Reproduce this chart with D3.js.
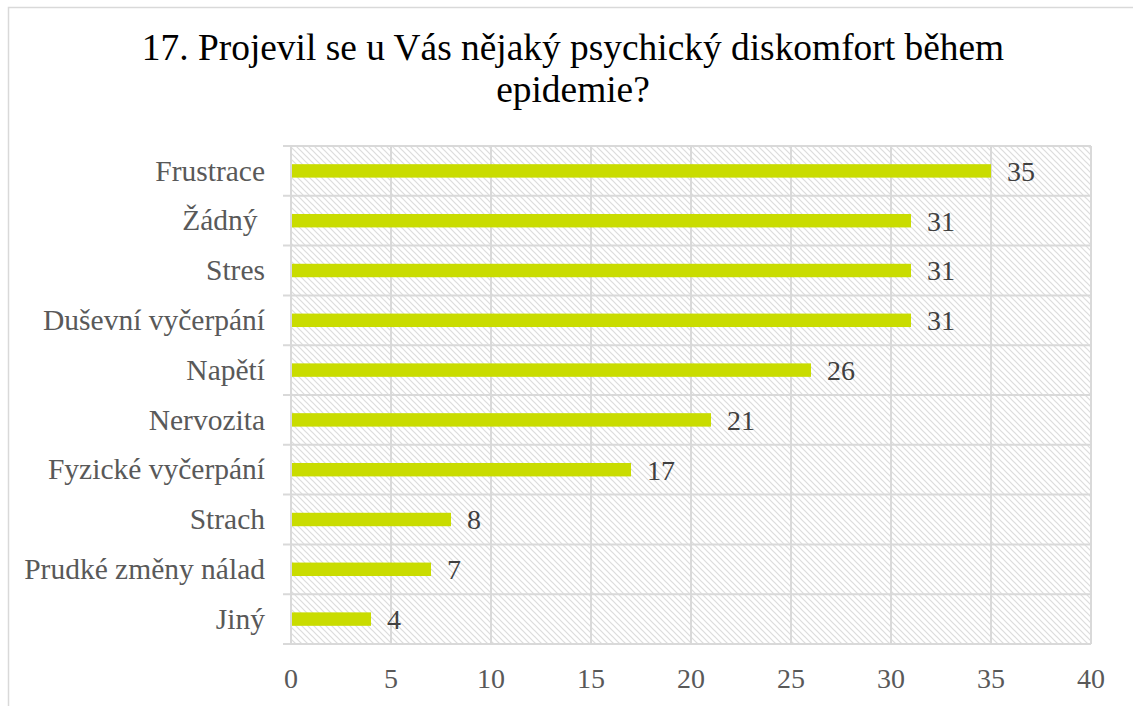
<!DOCTYPE html>
<html><head><meta charset="utf-8">
<script src="https://cdn.jsdelivr.net/npm/d3@7"></script>
<style>html,body{margin:0;padding:0;background:#fff;}svg{display:block;}text{white-space:pre;}</style>
</head><body>
<svg id="chart" width="1133" height="706"></svg>
<script>
const categories = ["Frustrace","Žádný ","Stres","Duševní vyčerpání","Napětí","Nervozita","Fyzické vyčerpání","Strach","Prudké změny nálad","Jiný"];
const values = [35,31,31,31,26,21,17,8,7,4];
const xTicks = [0,5,10,15,20,25,30,35,40];
const titleLines = ["17. Projevil se u Vás nějaký psychický diskomfort během","epidemie?"];

const svg = d3.select("#chart");
const font = "'Liberation Serif','Times New Roman',serif";

svg.append("rect").attr("x",8.5).attr("y",7.5).attr("width",1200).attr("height",800)
  .attr("fill","#fff").attr("stroke","#d9d9d9").attr("stroke-width",1.5);

const defs = svg.append("defs");
const pat = defs.append("pattern").attr("id","hatch").attr("patternUnits","userSpaceOnUse")
  .attr("width",6).attr("height",6);
pat.append("rect").attr("width",6).attr("height",6).attr("fill","#fff");
pat.append("path").attr("d","M-1,-1 L7,7 M-1,5 L1,7 M5,-1 L7,1").attr("stroke","#dcdcdc").attr("stroke-width",1.2);

const x = d3.scaleLinear().domain([0,40]).range([291,1091]);
const y = d3.scaleBand().domain(categories).range([146,644]).paddingInner(0.73).paddingOuter(0.365);
const yb = d3.scaleBand().domain(categories).range([146,644]);

svg.append("rect").attr("x",x(0)).attr("y",146).attr("width",x(40)-x(0)).attr("height",644-146)
  .attr("fill","url(#hatch)");

svg.append("g").selectAll("line").data(xTicks).join("line")
  .attr("x1",d=>x(d)).attr("x2",d=>x(d)).attr("y1",146).attr("y2",644)
  .attr("stroke","#d9d9d9").attr("stroke-width",2);
const bounds = categories.map(c=>yb(c)).concat([644]);
svg.append("g").selectAll("line").data(bounds).join("line")
  .attr("x1",283).attr("x2",x(40)).attr("y1",d=>d).attr("y2",d=>d)
  .attr("stroke","#d9d9d9").attr("stroke-width",2);

svg.append("g").selectAll("rect").data(values).join("rect")
  .attr("x",x(0)+1).attr("y",(d,i)=>y(categories[i]))
  .attr("width",d=>x(d)-x(0)-1).attr("height",y.bandwidth())
  .attr("fill","#c9dc00");

svg.append("g").selectAll("text").data(values).join("text")
  .attr("x",d=>x(d)+16).attr("y",(d,i)=>yb(categories[i])+yb.bandwidth()/2)
  .attr("dy","0.35em").attr("font-family",font).attr("font-size",28).attr("fill","#404040")
  .text(d=>d);

svg.append("g").selectAll("text").data(categories).join("text")
  .attr("x",265).attr("y",d=>yb(d)+yb.bandwidth()/2).attr("dy","0.33em")
  .attr("text-anchor","end").attr("font-family",font).attr("font-size",29.5).attr("fill","#595959")
  .text(d=>d);

svg.append("g").selectAll("text").data(xTicks).join("text")
  .attr("x",d=>x(d)).attr("y",688).attr("text-anchor","middle")
  .attr("font-family",font).attr("font-size",28).attr("fill","#595959")
  .text(d=>d);

svg.append("g").selectAll("text").data(titleLines).join("text")
  .attr("x",573).attr("y",(d,i)=>60+i*42).attr("text-anchor","middle")
  .attr("font-family",font).attr("font-size",37.4).attr("fill","#000")
  .text(d=>d);
</script>
</body></html>
